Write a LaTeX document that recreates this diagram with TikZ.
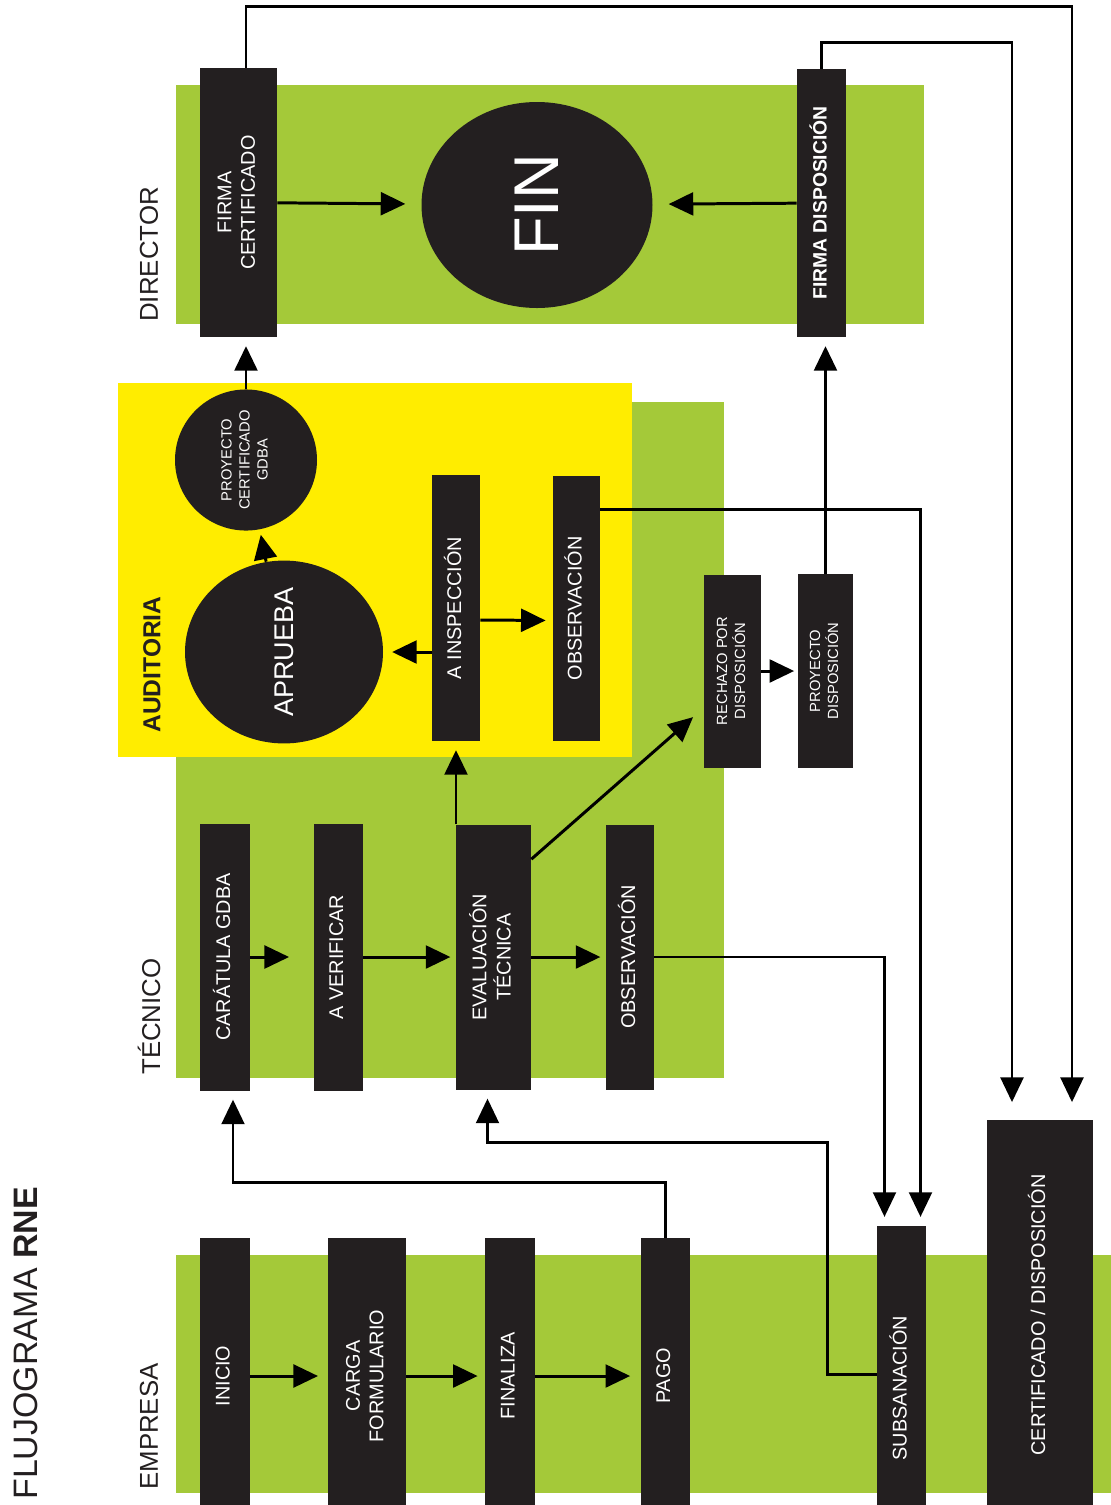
\documentclass[tikz,border=0pt]{standalone}
\usepackage{fontspec}
\setmainfont{Liberation Sans}
\usepackage{graphicx}
\usetikzlibrary{calc,arrows.meta,shapes.geometric}

\definecolor{lane}{RGB}{164,201,57}
\definecolor{audit}{RGB}{255,237,0}
\definecolor{ink}{RGB}{35,31,32}

\newcommand{\vt}[1]{\rotatebox{90}{\begin{tabular}{@{}c@{}}#1\end{tabular}}}

\tikzset{
  blk/.style={fill=ink, text=white, inner sep=0pt, font=\fontsize{11.3}{13.3}\selectfont},
  sz/.style 2 args={minimum width={#1*0.02cm}, minimum height={#2*0.02cm}},
  small/.style={font=\fontsize{8.4}{10.3}\selectfont},
  bub/.style={ellipse, fill=ink, text=white, inner sep=0pt},
  flow/.style={line width=1.7pt, -{Triangle[length=14pt,width=13pt]}, shorten >=5pt},
  route/.style={line width=1.5pt, -{Triangle[length=14pt,width=13pt]}, shorten >=5pt},
  lanelbl/.style={rotate=90, anchor=west, inner sep=0pt, text=ink, font=\fontsize{14.7}{16}\selectfont}
}

\begin{document}
\begin{tikzpicture}[x=0.02cm, y=-0.02cm]
		%%%%% FRAME %%%%%
		\useasboundingbox (0,0) rectangle (1111,1505);
		\clip (0,0) rectangle (1111,1505);
		
		%%%%% LANES %%%%%
		\fill[lane] (176,85) rectangle (924,324);
		\fill[lane] (176,402) rectangle (724,1078);
		\fill[audit] (118,383) rectangle (632,757);
		\fill[lane] (176,1255) rectangle (1111,1493);
		
		\node[lanelbl, font=\fontsize{19.3}{20}\selectfont] (title) at (26,1500) {FLUJOGRAMA \textbf{RNE}};
		\node[lanelbl] (ldir) at (149,322) {DIRECTOR};
		\node[lanelbl, font=\bfseries\fontsize{14}{16}\selectfont] (laud) at (152,733) {AUDITORIA};
		\node[lanelbl] (ltec) at (149,1075) {TÉCNICO};
		\node[lanelbl] (lemp) at (149,1490) {EMPRESA};
		
		%%%%% DIRECTOR %%%%%
		\node[blk, sz={77}{269}] (fcert) at (238.5,202.5) {\vt{FIRMA\\CERTIFICADO}};
		\node[bub, sz={231}{206}, font=\fontsize{36}{36}\selectfont] (fin) at (537,205) {\rotatebox{90}{FIN}};
		\node[blk, sz={49}{268}, font=\bfseries\fontsize{11}{13}\selectfont] (fdisp) at (821.5,203) {\vt{FIRMA DISPOSICIÓN}};
		
		%%%%% AUDITORIA %%%%%
		\node[bub, sz={142}{124}, small] (pcert) at (246,460) {\vt{PROYECTO\\CERTIFICADO\\GDBA}};
		\node[bub, sz={198}{180}, font=\fontsize{15.4}{16}\selectfont] (aprueba) at (284,652) {\rotatebox{90}{APRUEBA}};
		\node[blk, sz={48}{266}] (insp) at (456,608) {\vt{A INSPECCIÓN}};
		\node[blk, sz={47}{265}] (obsa) at (576.5,608.5) {\vt{OBSERVACIÓN}};
		
		%%%%% TECNICO %%%%%
		\node[blk, sz={50}{267}] (carat) at (225,957) {\vt{CARÁTULA GDBA}};
		\node[blk, sz={49}{267}] (verif) at (338.5,957) {\vt{A VERIFICAR}};
		\node[blk, sz={75}{265}] (eval) at (493.5,957) {\vt{EVALUACIÓN\\TÉCNICA}};
		\node[blk, sz={48}{265}] (obst) at (630,957) {\vt{OBSERVACIÓN}};
		\node[blk, sz={57}{193}, small] (rech) at (732.5,671) {\vt{RECHAZO POR\\DISPOSICIÓN}};
		\node[blk, sz={55}{194}, small] (pdisp) at (825.5,671) {\vt{PROYECTO\\DISPOSICIÓN}};
		
		%%%%% EMPRESA %%%%%
		\node[blk, sz={50}{276}] (inicio) at (225,1376) {\vt{INICIO}};
		\node[blk, sz={78}{276}] (carga) at (367,1376) {\vt{CARGA\\FORMULARIO}};
		\node[blk, sz={50}{276}] (finaliza) at (510,1376) {\vt{FINALIZA}};
		\node[blk, sz={49}{276}] (pago) at (665.5,1376) {\vt{PAGO}};
		\node[blk, sz={49}{324}] (subs) at (901.5,1388) {\vt{SUBSANACIÓN}};
		\node[blk, sz={106}{390}] (certdisp) at (1040,1315) {\vt{CERTIFICADO / DISPOSICIÓN}};
		
		%%%%% FLOW %%%%%
		\draw[flow, shorten >=5.5pt] (inicio) -- (carga);
		\draw[flow, shorten >=4pt] (carga) -- (finaliza);
		\draw[flow, shorten >=6pt] (finaliza) -- (pago);
		
		\draw[flow, shorten >=14pt] (carat) -- (verif);
		\draw[flow, shorten >=3pt] (verif) -- (eval);
		\draw[flow, shorten >=3pt] (eval) -- (obst);
		\draw[flow] (insp |- eval.north) -- (insp.south);
		\draw[flow, shorten >=8pt] ($(eval.north east)+(0,35)$) -- ($(rech.south west)+(0,-60)$);
		\draw[flow, shorten >=2pt] (rech) -- (pdisp);
		
		\draw[flow] (insp.west |- aprueba) -- (aprueba);
		\draw[flow, shorten >=4pt] ($(insp.east)+(0,12)$) -- ($(obsa.west)+(0,12)$);
		\draw[flow, shorten >=3pt] (aprueba) -- (pcert);
		\draw[flow] (pcert) -- (pcert |- fcert.south);
		\draw[flow] (pdisp.north) -- (pdisp.north |- fdisp.south);
		
		\draw[flow, shorten >=9pt] (fcert) -- (fin);
		\draw[flow, shorten >=9pt] (fdisp) -- (fin);
		
		%%%%% RETURNS %%%%%
		\draw[route, shorten >=10pt] (fcert.north -| pcert) -- ++(0,-61) -| ($(certdisp.north)+(32,0)$);
		\draw[route, shorten >=10pt] (fdisp.north) -- ++(0,-26) -| ($(certdisp.north)+(-28,0)$);
		\draw[route] ($(obsa.north east)+(0,34)$) -| ($(subs.north)+(19,0)$);
		\draw[route] (obst.east) -| ($(subs.north)+(-17,0)$);
		\draw[route] (pago.north) -- ++(0,-55) -| ($(carat.south)+(8,0)$);
		\draw[route] ($(subs.north west)+(0,149)$) -- ++(-49,0) -- ++(0,-232) -| ($(eval.south)+(-6,0)$);
		%%%%% END %%%%%
\end{tikzpicture}
\end{document}
